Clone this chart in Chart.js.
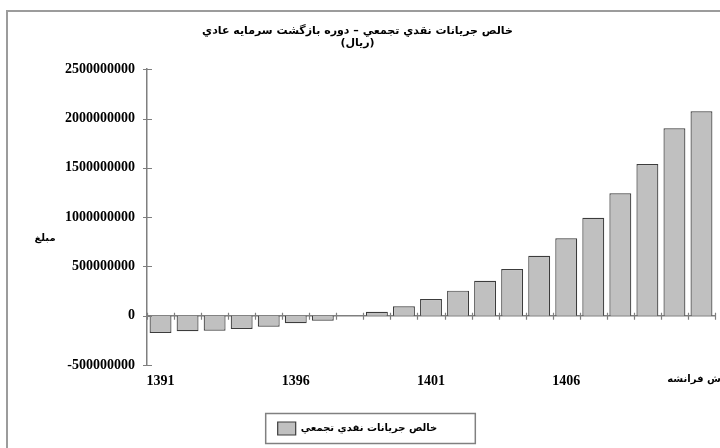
<!DOCTYPE html>
<html>
<head>
<meta charset="utf-8">
<script src="https://cdn.jsdelivr.net/npm/chart.js@4.4.1/dist/chart.umd.min.js"></script>
<style>
    html, body { margin: 0; padding: 0; background: #fff; }
    #wrap { position: relative; width: 720px; height: 448px; overflow: hidden; }
    #frame { position: absolute; left: 6px; top: 10px; right: -4px; bottom: -4px;
             border-left: 2px solid #9c9c9c; border-top: 2px solid #9c9c9c; }
    canvas { position: absolute; left: 0; top: 0; }
</style>
</head>
<body>
<div id="wrap">
    <div id="frame"></div>
    <canvas id="chart" width="720" height="448"></canvas>
</div>
<script>
// Years of the project plus the final (terminal) value column
const years = ['1391', '1392', '1393', '1394', '1395', '1396', '1397', '1398', '1399', '1400',
    '1401', '1402', '1403', '1404', '1405', '1406', '1407', '1408', '1409', '1410', 'ارزش فرانشه'];

// Cumulative net cash flow (rial)
const cumulativeCashFlow = [-176000000, -158000000, -152000000, -135000000, -111000000, -77000000,
    -50000000, 0, 40000000, 95000000, 169000000, 254000000, 355000000, 473000000, 608000000,
    785000000, 994000000, 1241000000, 1538000000, 1900000000, 2073000000];

const yMin = -500000000;
const yMax = 2500000000;
const yStep = 500000000;

const titleLines = ['خالص جريانات نقدي تجمعي – دوره بازگشت سرمايه عادي', '(ريال)'];
const seriesName = 'خالص جريانات نقدي تجمعي';
const yTitle = 'مبلغ';

const tickFont = { family: 'Liberation Serif', size: 14, weight: 'bold' };
const arabicFont = { family: 'DejaVu Sans', size: 11, weight: 'bold' };
const arabicTickFont = { family: 'DejaVu Sans', size: 10, weight: 'bold' };

// Excel-style crossing tick marks, legend frame and horizontal y title
const decorations = {
    id: 'decorations',
    afterDraw(chart) {
        const ctx = chart.ctx;
        const x = chart.scales.x;
        const y = chart.scales.y;
        ctx.save();
        ctx.strokeStyle = '#7f7f7f';
        ctx.lineWidth = 1.2;

        // ticks between categories on the zero line
        const zero = y.getPixelForValue(0);
        const step = x.width / years.length;
        ctx.beginPath();
        for (let i = 0; i <= years.length; i++) {
            const px = Math.round(x.left + i * step) + 0.5;
            ctx.moveTo(px, zero - 3);
            ctx.lineTo(px, zero + 4);
        }
        // ticks on the value axis
        y.ticks.forEach(t => {
            const py = Math.round(y.getPixelForValue(t.value)) + 0.5;
            ctx.moveTo(y.right - 4, py);
            ctx.lineTo(y.right + 5, py);
        });
        ctx.stroke();

        // frame round the legend
        const box = chart.legend.legendHitBoxes[0];
        if (box) {
            const cy = box.top + box.height / 2;
            ctx.strokeStyle = '#808080';
            ctx.lineWidth = 1.5;
            ctx.strokeRect(box.left - 12, cy - 15, box.width + 50, 30);
        }

        // y axis title, written horizontally
        ctx.fillStyle = '#000';
        ctx.font = 'bold 10px "DejaVu Sans"';
        ctx.textAlign = 'center';
        ctx.textBaseline = 'middle';
        ctx.fillText(yTitle, 45, 238);
        ctx.restore();
    }
};

new Chart(document.getElementById('chart'), {
    type: 'bar',
    data: {
        labels: years,
        datasets: [{
            label: seriesName,
            data: cumulativeCashFlow,
            backgroundColor: '#c0c0c0',
            borderColor: '#3c3c3c',
            borderWidth: 1.2,
            categoryPercentage: 0.81,
            barPercentage: 1,
            xAxisID: 'x',
            yAxisID: 'y'
        }]
    },
    options: {
        responsive: false,
        animation: false,
        layout: { padding: { left: 0, right: 5, top: 0, bottom: 3 } },
        plugins: {
            title: {
                display: true,
                text: titleLines,
                color: '#000',
                font: { ...arabicFont, lineHeight: 1.1 },
                padding: { top: 25, bottom: 20 }
            },
            legend: {
                position: 'bottom',
                labels: {
                    boxWidth: 18,
                    boxHeight: 13,
                    padding: 10,
                    color: '#000',
                    font: { family: 'DejaVu Sans', size: 10, weight: 'bold' }
                }
            },
            tooltip: { enabled: false }
        },
        scales: {
            x: {
                type: 'category',
                position: { y: 0 },
                offset: true,
                grid: { display: false, drawTicks: false },
                border: { display: true, color: '#7f7f7f', width: 1.5 },
                ticks: { display: false }
            },
            x2: {
                type: 'category',
                position: 'bottom',
                labels: years,
                offset: true,
                grid: { display: false, drawTicks: false },
                border: { display: false },
                ticks: {
                    autoSkip: false,
                    maxRotation: 0,
                    padding: 8,
                    color: '#000',
                    font: c => (c.index === years.length - 1 ? arabicTickFont : tickFont),
                    callback: (v, i) => (i % 5 === 0 ? years[i] : '')
                },
                afterFit: s => { s.paddingLeft = 0; s.paddingRight = 0; s.height = 47; }
            },
            y: {
                min: yMin,
                max: yMax,
                ticks: {
                    stepSize: yStep,
                    padding: 12,
                    color: '#000',
                    font: tickFont,
                    callback: v => String(v)
                },
                grid: { display: false, drawTicks: false },
                border: { color: '#7f7f7f', width: 1.5 },
                afterFit: s => { s.width = 147; }
            }
        }
    },
    plugins: [decorations]
});
</script>
</body>
</html>
